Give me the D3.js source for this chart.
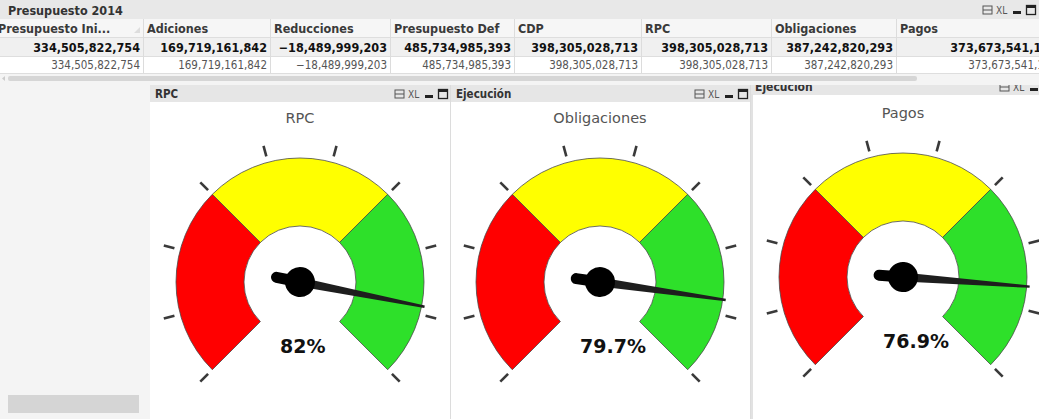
<!DOCTYPE html>
<html>
<head>
<meta charset="utf-8">
<title>Presupuesto 2014</title>
<script src="https://cdn.jsdelivr.net/npm/d3@7"></script>
<style>
body { margin: 0; background: #fff; overflow: hidden; }
svg { display: block; }
</style>
</head>
<body>
<script>
// table data
var tableTitle = "Presupuesto 2014";
var columns = ["Presupuesto Ini...", "Adiciones", "Reducciones", "Presupuesto Def", "CDP", "RPC", "Obligaciones", "Pagos"];
var totals = [334505822754, 169719161842, -18489999203, 485734985393, 398305028713, 398305028713, 387242820293, 373673541152];
var rowValues = [334505822754, 169719161842, -18489999203, 485734985393, 398305028713, 398305028713, 387242820293, 373673541152];

// gauge data
var captions = ["RPC", "Ejecución", "Ejecución"];
var gaugeTitles = ["RPC", "Obligaciones", "Pagos"];
var gaugePercents = [82, 79.7, 76.9];
var bandBreaks = [0, 1 / 3, 2 / 3, 1];
var bandColors = ["#ff0000", "#ffff00", "#2ee02a"];
var tickCount = 10;
var needleMin = -93, needleMax = 107;

var W = 1039, H = 419;
var fmt = d3.format(",");
var font = "'DejaVu Sans Condensed', 'DejaVu Sans', sans-serif";

var svg = d3.select("body").append("svg").attr("width", W).attr("height", H);

// column boundaries
var colWidths = [149, 127, 120, 124, 127, 130, 125, 164];
var colX = [-6];
colWidths.forEach(function(w, i) { colX.push(colX[i] + w); });

// ---------- gauge panels (drawn first, table panel overlaps panel 3) ----------
svg.append("rect").attr("x", 0).attr("y", 84).attr("width", 150).attr("height", H - 84).attr("fill", "#f4f4f4");
svg.append("rect").attr("x", 8).attr("y", 395).attr("width", 131).attr("height", 18).attr("fill", "#d5d5d5");

var panels = [
  {x: 150, w: 301, top: 85, cx: 300, cy: 282},
  {x: 451, w: 300, top: 85, cx: 600, cy: 282},
  {x: 751, w: 290, top: 78, cx: 903, cy: 277}
];

var dial = d3.scaleLinear().domain([0, 1]).range([-135, 135]);
var valueFrac = d3.scaleLinear().domain([needleMin, needleMax]).range([0, 1]);
var rad = Math.PI / 180;
var R = 124, r0 = 56;
var arc = d3.arc().innerRadius(r0).outerRadius(R);

panels.forEach(function(p, i) {
  var g = svg.append("g");
  g.append("rect").attr("x", p.x).attr("y", p.top).attr("width", p.w).attr("height", H - p.top)
    .attr("fill", "#ffffff");
  g.append("rect").attr("x", p.x).attr("y", p.top).attr("width", p.w).attr("height", 17)
    .attr("fill", "#e6e6e6");
  g.append("line").attr("x1", p.x + p.w - 0.5).attr("x2", p.x + p.w - 0.5)
    .attr("y1", p.top).attr("y2", H).attr("stroke", "#dcdcdc");
  if (i == 2) {
    g.append("rect").attr("x", p.x).attr("y", p.top).attr("width", 2).attr("height", H - p.top).attr("fill", "#e2e2e2");
  }
  g.append("text").attr("x", p.x + 5).attr("y", p.top + 13)
    .attr("font-family", font).attr("font-size", 11.5).attr("font-weight", "bold")
    .attr("fill", "#333").text(captions[i]);
  drawIcons(g, p.x + p.w - 56, p.top + 3);

  // bands
  var gg = g.append("g").attr("transform", "translate(" + p.cx + "," + p.cy + ")");
  d3.range(3).forEach(function(b) {
    gg.append("path")
      .attr("d", arc({startAngle: dial(bandBreaks[b]) * rad, endAngle: dial(bandBreaks[b + 1]) * rad}))
      .attr("fill", bandColors[b]).attr("stroke", "#4a4a4a").attr("stroke-width", 0.8);
  });
  // ticks
  gg.selectAll("line.tick").data(d3.range(tickCount).map(function(k) { return k / (tickCount - 1); }))
    .enter().append("line")
    .attr("x1", function(d) { return 130 * Math.sin(dial(d) * rad); })
    .attr("y1", function(d) { return -130 * Math.cos(dial(d) * rad); })
    .attr("x2", function(d) { return 141 * Math.sin(dial(d) * rad); })
    .attr("y2", function(d) { return -141 * Math.cos(dial(d) * rad); })
    .attr("stroke", "#3a3a3a").attr("stroke-width", 2.6);
  // title
  g.append("text").attr("x", p.cx).attr("y", p.cy - 159).attr("text-anchor", "middle")
    .attr("font-family", "'DejaVu Sans', sans-serif").attr("font-size", 14.5)
    .attr("fill", "#555").text(gaugeTitles[i]);
  // needle
  var ang = dial(valueFrac(gaugePercents[i]));
  var ng = gg.append("g").attr("transform", "rotate(" + ang + ")");
  ng.append("line").attr("x1", 0).attr("y1", 0).attr("x2", 0).attr("y2", 24)
    .attr("stroke", "#000").attr("stroke-width", 11).attr("stroke-linecap", "round");
  ng.append("path").attr("d", "M-4.5,0 L4.5,0 L1.2,-127 L-1.2,-127 Z").attr("fill", "#1e1e1e");
  ng.append("circle").attr("r", 15).attr("fill", "#000");
  // value label
  g.append("text").attr("x", p.cx - 20).attr("y", p.cy + 71)
    .attr("font-family", "'DejaVu Sans', sans-serif").attr("font-size", 19).attr("font-weight", "bold")
    .attr("fill", "#111").text(gaugePercents[i] + "%");
});

function drawIcons(g, x, y) {
  // print icon
  g.append("rect").attr("x", x).attr("y", y + 2).attr("width", 9).attr("height", 8)
    .attr("fill", "none").attr("stroke", "#555").attr("stroke-width", 1);
  g.append("line").attr("x1", x).attr("x2", x + 9).attr("y1", y + 6).attr("y2", y + 6).attr("stroke", "#555");
  g.append("text").attr("x", x + 13).attr("y", y + 10).attr("font-family", font)
    .attr("font-size", 10).attr("fill", "#555").text("XL");
  g.append("rect").attr("x", x + 30).attr("y", y + 7).attr("width", 8).attr("height", 3).attr("fill", "#222");
  g.append("rect").attr("x", x + 43.5).attr("y", y + 1.5).attr("width", 9).attr("height", 9)
    .attr("fill", "none").attr("stroke", "#222").attr("stroke-width", 1.3);
  g.append("line").attr("x1", x + 43.5).attr("x2", x + 52.5).attr("y1", y + 3).attr("y2", y + 3)
    .attr("stroke", "#222").attr("stroke-width", 2);
}

// ---------- table panel ----------
var t = svg.append("g");
t.append("rect").attr("width", W).attr("height", 85).attr("fill", "#f2f2f2");
t.append("rect").attr("width", W).attr("height", 19).attr("fill", "#e8e8e8");
t.append("text").attr("x", 8).attr("y", 15).attr("font-family", font).attr("font-size", 12.5)
  .attr("font-weight", "bold").attr("fill", "#333").text(tableTitle);
drawIcons(t, 983, 4);

t.append("rect").attr("x", 0).attr("y", 19).attr("width", W).attr("height", 18).attr("fill", "#f6f6f6");
t.append("rect").attr("x", 0).attr("y", 37).attr("width", W).attr("height", 19).attr("fill", "#f0f0f0");
t.append("rect").attr("x", 0).attr("y", 56).attr("width", W).attr("height", 17).attr("fill", "#ffffff");
[37, 56, 73].forEach(function(y) {
  t.append("line").attr("x1", 0).attr("x2", W).attr("y1", y + 0.5).attr("y2", y + 0.5).attr("stroke", "#dedede");
});
colX.slice(1, -1).forEach(function(x) {
  t.append("line").attr("x1", x + 0.5).attr("x2", x + 0.5).attr("y1", 19).attr("y2", 73).attr("stroke", "#dcdcdc");
});

t.selectAll("text.head").data(columns).enter().append("text")
  .attr("x", function(d, i) { return colX[i] + 4; }).attr("y", 33)
  .attr("font-family", font).attr("font-size", 12.5).attr("font-weight", "bold")
  .attr("fill", "#3a3a3a").text(function(d) { return d; });
t.append("path").attr("d", "M134,33 L140,27 L140,33 Z").attr("fill", "#ddd");

t.selectAll("text.tot").data(totals).enter().append("text")
  .attr("x", function(d, i) { return colX[i + 1] - 3; }).attr("y", 52)
  .attr("text-anchor", "end").attr("font-family", font).attr("font-size", 12.5).attr("font-weight", "bold")
  .attr("fill", "#111").text(function(d) { return fmt(d); });
t.selectAll("text.row").data(rowValues).enter().append("text")
  .attr("x", function(d, i) { return colX[i + 1] - 3; }).attr("y", 69)
  .attr("text-anchor", "end").attr("font-family", font).attr("font-size", 11.5)
  .attr("fill", "#555").text(function(d) { return fmt(d); });

// scroll bar
t.append("rect").attr("x", 0).attr("y", 74).attr("width", W).attr("height", 11).attr("fill", "#f4f4f4");
t.append("rect").attr("x", 8).attr("y", 76).attr("width", 909).attr("height", 5).attr("rx", 2).attr("fill", "#d6d6d6");
t.append("path").attr("d", "M2,78.5 L5,76 L5,81 Z").attr("fill", "#ccc");

// panel 3 caption peeking below the table
var clip = svg.append("clipPath").attr("id", "c3");
clip.append("rect").attr("x", 751).attr("y", 85).attr("width", 290).attr("height", 9);
var c3 = svg.append("g").attr("clip-path", "url(#c3)");
c3.append("rect").attr("x", 751).attr("y", 80).attr("width", 290).attr("height", 14).attr("fill", "#e6e6e6");
c3.append("text").attr("x", 755).attr("y", 91).attr("font-family", font).attr("font-size", 12)
  .attr("font-weight", "bold").attr("fill", "#333").text(captions[2]);
drawIcons(c3, 1000, 81);
</script>
</body>
</html>
